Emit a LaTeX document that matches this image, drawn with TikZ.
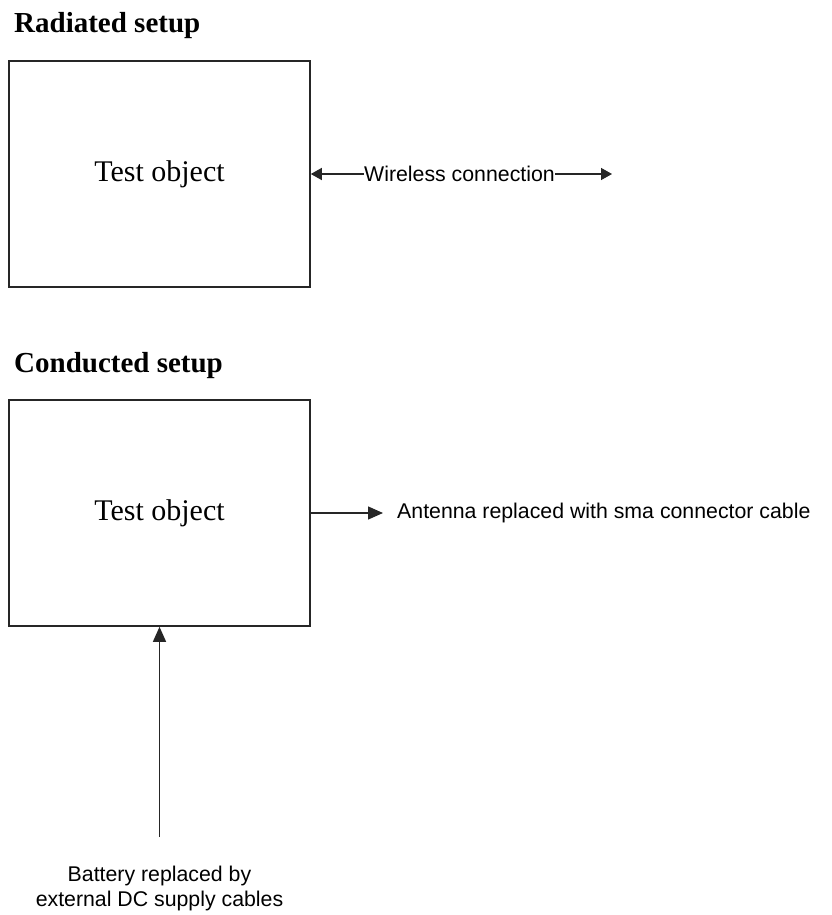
\documentclass[tikz,border=0pt]{standalone}
\usepackage{fontspec}
\setmainfont{Liberation Serif}
\newfontfamily\lbsans{Liberation Sans}
\usetikzlibrary{arrows.meta}
\tikzset{
  box/.style={draw=black!85, line width=1.6pt, minimum width=301pt, minimum height=226pt, inner sep=0pt,
              font=\fontsize{30}{34}\selectfont},
  title/.style={anchor=base west, inner sep=0pt, font=\fontsize{29}{33}\selectfont\bfseries},
  lbl/.style={inner sep=0pt, font=\lbsans\fontsize{21.3}{25}\selectfont},
  conn/.style={draw=black!85, line width=1.4pt, -{Triangle[length=15pt,width=13pt]}},
  wconn/.style={draw=black!85, line width=1.4pt, -{Triangle[length=11pt,width=12pt]}}
}
\begin{document}
\begin{tikzpicture}[x=1pt,y=-1pt]
\useasboundingbox (0,0) rectangle (832,915);
\node[title] (t1) at (14,33) {Radiated setup};
\node[title] (t2) at (14,372) {Conducted setup};
\node[box] (b1) at (159.5,174) {Test object};
\node[box] (b2) at (159.5,513) {Test object};
\node[lbl, anchor=west] (wl) at (364,174) {Wireless connection};
\coordinate (wend) at (612,174);
\draw[wconn] (wl.west) -- (b1.east);
\draw[wconn] (wl.east) -- (wend);
\coordinate (aend) at (383,513);
\node[lbl, anchor=west] (al) at (397,513) {Antenna replaced with sma connector cable};
\draw[conn] (b2.east) -- (aend);
\coordinate (bstart) at (159.5,837);
\node[lbl, align=center, anchor=north] (bl) at (159.5,866) {Battery replaced by\\[0pt]external DC supply cables};
\draw[conn] (bstart) -- (b2.south);
\end{tikzpicture}
\end{document}
